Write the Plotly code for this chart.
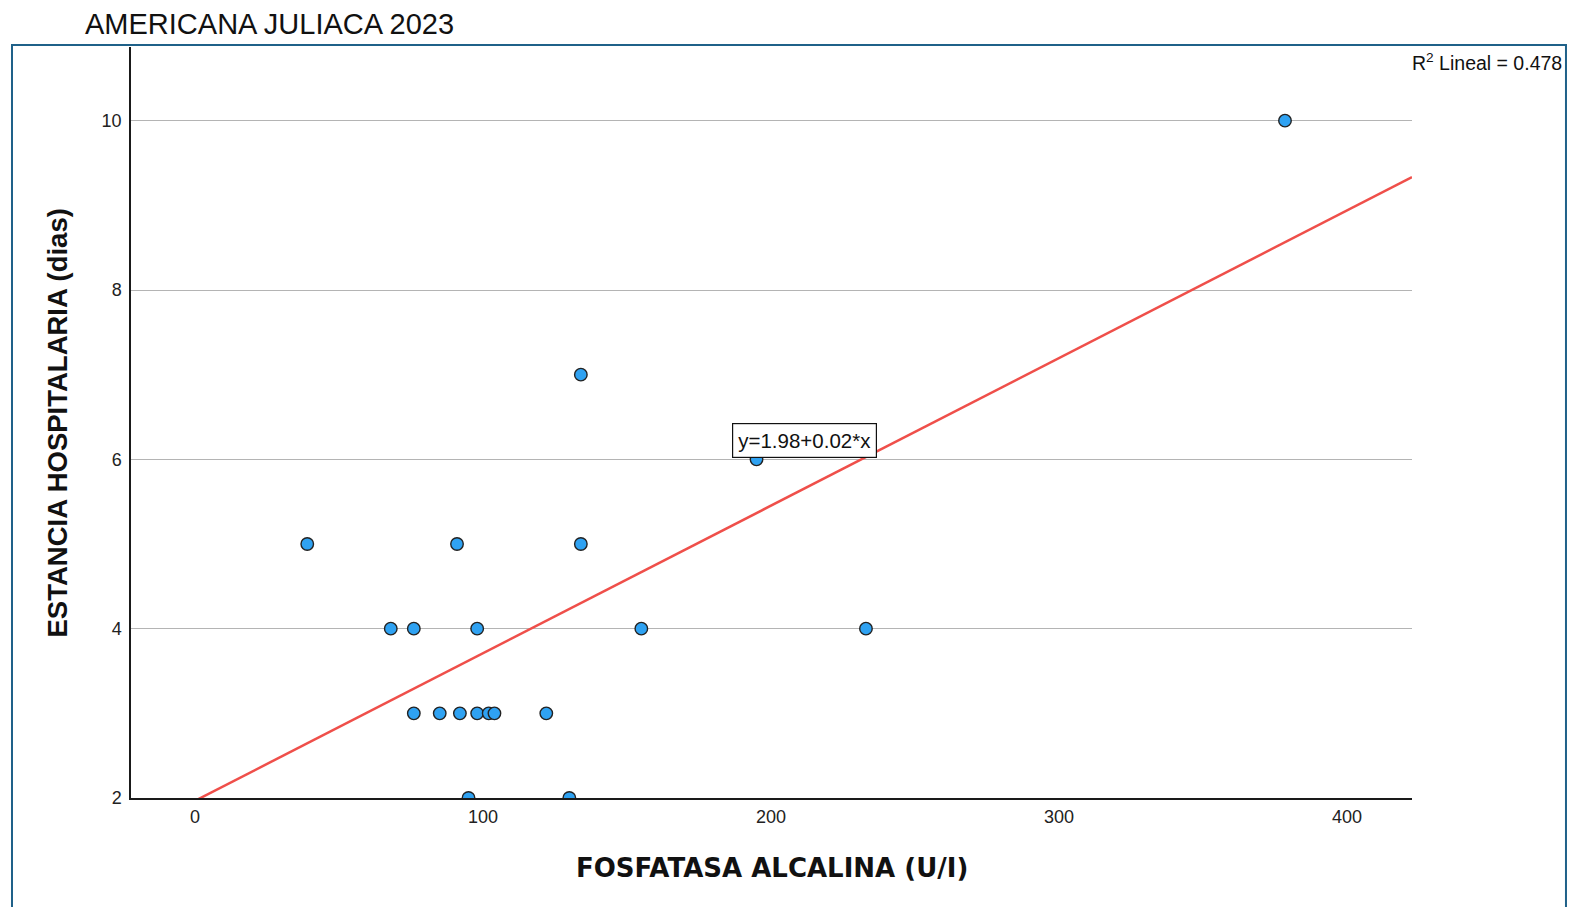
import numpy as np
import plotly.graph_objects as go

# Fosfatasa alcalina (U/l) vs estancia hospitalaria (dias)
fosfatasa = [39, 91, 134, 68, 76, 98, 155, 233, 76, 85, 92, 98, 102, 104, 122, 95, 130, 134, 195, 378.5]
estancia = [5, 5, 5, 4, 4, 4, 4, 4, 3, 3, 3, 3, 3, 3, 3, 2, 2, 7, 6, 10]

x_ticks = [0, 100, 200, 300, 400]
y_ticks = [2, 4, 6, 8, 10]
r2_text = "R<sup>2</sup> Lineal = 0.478"
eq_text = "y=1.98+0.02*x"

x_range = [-22.2, 422.6]
y_range = [2, 10.87]

slope, intercept = np.polyfit(fosfatasa, estancia, 1)
line_x = np.array(x_range)
line_y = intercept + slope * line_x

FONT = "Liberation Sans, Arial, sans-serif"

fig = go.Figure()
fig.add_trace(go.Scatter(
    x=line_x, y=line_y, mode="lines",
    line=dict(color="#ef4f4a", width=2.5),
    hoverinfo="skip", showlegend=False,
))
fig.add_trace(go.Scatter(
    x=fosfatasa, y=estancia, mode="markers",
    marker=dict(size=12.5, color="#2fa2f2", line=dict(color="#222", width=1.4)),
    cliponaxis=True, showlegend=False,
))

# page has an 8px body margin, so the figure is sized to fit the 1585x915 window
fig.update_layout(
    width=1569, height=899,
    margin=dict(l=123, r=165, t=39, b=109),
    plot_bgcolor="white", paper_bgcolor="white",
    font=dict(family=FONT, size=16, color="#222"),
    showlegend=False,
)
fig.update_xaxes(
    range=x_range, tickvals=x_ticks, showgrid=False, zeroline=False,
    showline=True, linecolor="#1a1a1a", linewidth=1.5, ticks="", ticklen=0,
    ticklabelstandoff=2, tickfont=dict(size=18, color="#222"),
)
fig.update_yaxes(
    range=y_range, tickvals=y_ticks, showgrid=True, gridcolor="#b4b4b4", gridwidth=1,
    zeroline=False, showline=True, linecolor="#1a1a1a", linewidth=1.5, ticks="", ticklen=0,
    ticklabelstandoff=4, tickfont=dict(size=18, color="#222"),
)

# outer frame
fig.add_shape(type="rect", xref="paper", yref="paper",
              x0=-0.0929, x1=1.1202, y0=-0.2, y1=1.0027,
              line=dict(color="#1f6189", width=2), layer="below")

fig.add_annotation(text="AMERICANA JULIACA 2023", xref="paper", yref="paper",
                   x=-0.0375, y=1.031, xanchor="left", yanchor="middle",
                   showarrow=False, font=dict(size=29, color="#111", family=FONT))
fig.add_annotation(text="FOSFATASA ALCALINA (U/I)", xref="paper", yref="paper",
                   x=0.5, y=-0.0932, xanchor="center", yanchor="middle",
                   showarrow=False,
                   font=dict(size=26, color="#111", family="DejaVu Sans, sans-serif", weight="bold"))
fig.add_annotation(text="ESTANCIA HOSPITALARIA (dias)", xref="paper", yref="paper",
                   x=-0.057, y=0.5, xanchor="center", yanchor="middle", textangle=-90,
                   showarrow=False, font=dict(size=27.5, color="#111", family=FONT, weight="bold"))
fig.add_annotation(text=r2_text, xref="paper", yref="paper",
                   x=1.1187, y=0.980, xanchor="right", yanchor="middle",
                   showarrow=False, font=dict(size=19.5, color="#111", family=FONT))
fig.add_annotation(text=eq_text, x=211.8, y=6.22, xanchor="center", yanchor="middle",
                   showarrow=False, bgcolor="white", bordercolor="#111", borderwidth=1.2,
                   borderpad=5, font=dict(size=20.5, color="#111", family=FONT))

fig.write_html("out.html")
